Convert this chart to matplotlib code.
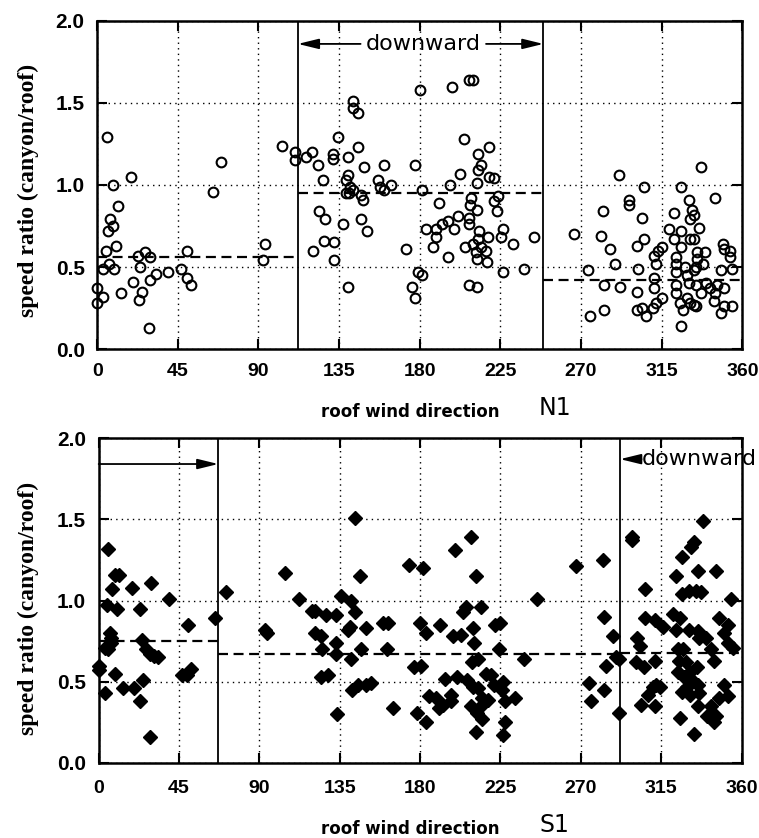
import matplotlib
matplotlib.use("Agg")
import matplotlib.pyplot as plt

plt.rcParams['font.family'] = ['Liberation Sans', 'DejaVu Sans']

# N1 : roof wind direction (deg) vs speed ratio, open circles
n1_dir = [5.6, 18.9, 8.7, 11.5, 7.4, 8.7, 5.9, 10.7, 5.2, 6.8, 3.1, 9.3, 0, 3.1, 0, 13.5,
          20, 22.6, 24, 26.5, 29.6, 24.8, 23.1, 29.3, 33, 39.8, 46.9, 50, 50, 52.2, 28.7,
          64.8, 68.9, 93.5, 92.6, 103.3, 110.4, 110.4,
          116.7, 120, 123, 126, 124, 127.4, 120.4, 126.5, 132, 132, 137, 131.5, 131.5, 134.6,
          140, 145.7, 142.6, 143, 145.7, 149, 139.8, 139, 141.3, 140.7, 139, 142.6, 147.4,
          148.5, 147.4, 150.5, 140, 156.5, 160, 158, 163.7, 160,
          177.4, 180, 198, 207.3, 210, 204.9, 212.7, 218.9, 214.2, 212.7, 202.6, 218.9, 221.3,
          197, 212, 181, 190.8, 208.6, 208.3, 211.8, 223.6, 221.3, 223, 201.5, 207.3, 207.7,
          195.5, 192.7, 199.2, 183.7, 189.3, 189, 187.5, 213.3, 218.3, 212.7, 209.5, 214.2,
          205.4, 211.4, 217, 212, 217.8, 226.4, 225.4, 232, 244, 195.9, 172.1, 179.3, 181.5,
          175.5, 177.2, 207.7, 211.8, 226.7, 238,
          266, 274, 275, 282, 281, 286, 289, 283, 283, 291, 292, 297, 297, 301, 304, 306, 301,
          302, 301, 305, 304, 305, 310, 311, 311, 312, 312, 311, 313, 315, 315, 319, 322, 322,
          323, 323, 323, 323, 323, 326, 326, 326, 326, 325, 327, 328, 329, 330, 331, 331, 330,
          329, 331, 333, 332, 333, 333, 333, 334, 334, 335, 335, 334, 336, 337, 338, 339, 340,
          342, 337, 344, 345, 345, 346, 348, 348, 349, 350, 350, 350, 353, 353, 354, 354]
n1_ratio = [1.29, 1.05, 1.00, 0.87, 0.79, 0.75, 0.72, 0.63, 0.60, 0.52, 0.49, 0.49, 0.37, 0.32,
            0.28, 0.34, 0.41, 0.57, 0.50, 0.59, 0.56, 0.35, 0.30, 0.42, 0.46, 0.47, 0.49, 0.60,
            0.43, 0.39, 0.13, 0.96, 1.14, 0.64, 0.54, 1.24, 1.20, 1.15,
            1.17, 1.20, 1.12, 1.03, 0.84, 0.79, 0.60, 0.66, 0.65, 0.54, 0.76, 1.19, 1.16, 1.29,
            1.17, 1.23, 1.51, 1.47, 1.44, 1.11, 1.06, 1.03, 0.99, 0.95, 0.95, 0.97, 0.94,
            0.91, 0.79, 0.72, 0.38, 1.03, 1.12, 0.99, 1.00, 0.97,
            1.12, 1.58, 1.60, 1.64, 1.64, 1.28, 1.19, 1.23, 1.12, 1.09, 1.07, 1.05, 1.04,
            1.00, 1.01, 0.97, 0.89, 0.92, 0.88, 0.85, 0.93, 0.90, 0.84, 0.81, 0.80, 0.76,
            0.78, 0.76, 0.73, 0.73, 0.73, 0.68, 0.62, 0.72, 0.68, 0.67, 0.64, 0.62,
            0.62, 0.59, 0.60, 0.55, 0.53, 0.73, 0.68, 0.64, 0.68, 0.56, 0.61, 0.47, 0.45,
            0.38, 0.31, 0.39, 0.38, 0.47, 0.49,
            0.70, 0.48, 0.20, 0.84, 0.69, 0.61, 0.52, 0.39, 0.24, 1.06, 0.38, 0.91, 0.88, 0.24,
            0.25, 0.20, 0.35, 0.49, 0.63, 0.67, 0.80, 0.99, 0.25, 0.43, 0.37, 0.28, 0.52, 0.57,
            0.60, 0.62, 0.31, 0.73, 0.83, 0.67, 0.56, 0.52, 0.47, 0.39, 0.34, 0.99, 0.72, 0.62,
            0.14, 0.28, 0.24, 0.50, 0.45, 0.91, 0.79, 0.67, 0.40, 0.31, 0.28, 0.27, 0.85, 0.82,
            0.67, 0.48, 0.39, 0.50, 0.59, 0.55, 0.26, 0.74, 0.34, 0.52, 0.59, 0.40, 0.37, 1.11,
            0.29, 0.92, 0.34, 0.39, 0.48, 0.22, 0.64, 0.61, 0.37, 0.26, 0.60, 0.56, 0.49, 0.26]

# S1 : filled diamonds
s1_dir = [5.2, 9.0, 11.2, 7.6, 18.8, 29.5, 4.7, 10.5, 23, 39.4, 65.3, 50, 6.5, 6.8, 7.1, 3.4,
          5.2, 24.3, 26.7, 28.5, 31, 33.2, 0, 0.3, 9.3, 46.7, 49.6, 51.9, 24.8, 3.7, 13.6,
          19.8, 23.3, 28.5,
          71.5, 104.1, 94.0, 93, 112.2, 119.4, 121, 127.5, 133.1, 121, 124.7, 125, 133.1, 133.1,
          135.9, 141.5, 143.7, 143.3, 146.5, 139.6, 141, 149.8, 147, 141.5, 159.2, 162, 161.5,
          124.7, 128.4, 141.8, 145.2, 149.8, 152.3, 164.8, 133.5,
          173.6, 181.6, 199.3, 208.3, 211.4, 245.4, 205.9, 204, 213.9, 180.1, 183.1, 191, 198.4,
          202.7, 209.6, 210.2, 221.7, 225, 223.9, 212.4, 209, 238, 176.5, 180.7, 193.7, 200.8,
          206.4, 209.6, 212.4, 217, 219.9, 221.3, 226.3, 225.8, 214.6, 218, 213.9, 212, 214.6,
          227.3, 233.3, 184.8, 189.1, 190.6, 192.8, 197.1, 197.5, 178.5, 183.1, 208.3, 211.4,
          227.3, 226.3,
          267.4, 282.4, 283, 288, 289.9, 284.2, 274.4, 275.6, 283, 291.5, 291.5,
          298.7, 298.7, 306.2, 301.6, 302.9, 301, 305.3, 305.7, 311.3, 315.9, 311.7, 312.2,
          310.4, 307.6, 303.9, 311.3, 314.1, 338.3, 333.6, 331.5, 326.6, 323.4, 335.5, 345.9,
          326.9, 330.6, 334.4, 337.2, 353.9, 321.6, 325.4, 323.1, 330.6, 335.5, 336.4, 340.1,
          347.6, 352.3, 350, 352.3, 355.1, 324.3, 327, 342.9, 344.8, 325.2, 328.9, 324.3, 331,
          334.8, 327.6, 332.3, 329.5, 335.5, 326.7, 331.4, 336, 350, 352.3, 347.6, 335.5, 343,
          340.8, 345.9, 344.8, 325.8, 333.6]
s1_ratio = [1.32, 1.16, 1.16, 1.07, 1.08, 1.11, 0.97, 0.95, 0.95, 1.01, 0.89, 0.85, 0.80, 0.77,
            0.74, 0.71, 0.70, 0.76, 0.70, 0.67, 0.66, 0.65, 0.60, 0.57, 0.55, 0.54, 0.54, 0.58,
            0.51, 0.43, 0.46, 0.46, 0.38, 0.16,
            1.05, 1.17, 0.80, 0.82, 1.01, 0.935, 0.935, 0.91, 0.91, 0.80, 0.78, 0.70, 0.74, 0.67,
            1.03, 1.00, 0.93, 1.51, 1.15, 0.82, 0.84, 0.83, 0.70, 0.64, 0.86, 0.86, 0.70,
            0.53, 0.54, 0.45, 0.48, 0.48, 0.49, 0.34, 0.30,
            1.22, 1.20, 1.31, 1.39, 1.15, 1.01, 0.96, 0.93, 0.96, 0.86, 0.80, 0.85, 0.78,
            0.79, 0.83, 0.74, 0.85, 0.86, 0.70, 0.64, 0.62, 0.64, 0.59, 0.60, 0.52, 0.53,
            0.51, 0.47, 0.46, 0.55, 0.54, 0.48, 0.50, 0.45, 0.40, 0.39, 0.35, 0.31, 0.27,
            0.38, 0.40, 0.41, 0.40, 0.34, 0.36, 0.42, 0.38, 0.31, 0.25, 0.35, 0.19,
            0.25, 0.17,
            1.21, 1.25, 0.90, 0.78, 0.65, 0.60, 0.49, 0.38, 0.45, 0.31, 0.64,
            1.37, 1.39, 1.07, 0.77, 0.72, 0.62, 0.59, 0.89, 0.88, 0.84, 0.63, 0.48,
            0.47, 0.42, 0.36, 0.35, 0.47, 1.49, 1.36, 1.33, 1.27, 1.15, 1.18, 1.18,
            1.04, 1.06, 1.06, 1.05, 1.01, 0.92, 0.89, 0.82, 0.82, 0.81, 0.77, 0.77,
            0.89, 0.85, 0.80, 0.74, 0.71, 0.70, 0.70, 0.70, 0.63, 0.63, 0.62, 0.56, 0.56,
            0.59, 0.53, 0.51, 0.47, 0.48, 0.44, 0.42, 0.43, 0.48, 0.41, 0.40, 0.35, 0.35,
            0.29, 0.29, 0.25, 0.28, 0.18]

# sector boundaries (solid lines) and sector mean ratios (dashed)
n1_bounds = [0, 112, 249, 360]
n1_means = [0.56, 0.95, 0.42]
s1_bounds = [0, 67, 292, 360]
s1_means = [0.75, 0.67, 0.68]

xticks = [0, 45, 90, 135, 180, 225, 270, 315, 360]
yticks = [0.0, 0.5, 1.0, 1.5, 2.0]

fig = plt.figure(figsize=(7.59, 8.38), dpi=100)
ax1 = fig.add_axes([0.128, 0.5835, 0.850, 0.3915])
ax2 = fig.add_axes([0.130, 0.0895, 0.847, 0.3878])


def style(ax, xpad):
    ax.set_xlim(0, 360)
    ax.set_ylim(0, 2.0)
    ax.set_xticks(xticks)
    ax.set_yticks(yticks)
    ax.set_yticklabels(['%.1f' % v for v in yticks])
    ax.tick_params(direction='in', length=7, width=1.5, top=True, right=True)
    ax.tick_params(axis='x', labelsize=14, pad=xpad)
    ax.tick_params(axis='y', labelsize=15, pad=9)
    for lab in ax.get_xticklabels() + ax.get_yticklabels():
        lab.set_fontweight('bold')
    for sp in ax.spines.values():
        sp.set_linewidth(1.8)
    ax.grid(True, color='black', linestyle=(0, (1, 3)), linewidth=1.0)


def sectors(ax, bounds, means):
    for b in bounds[1:-1]:
        ax.axvline(b, color='black', lw=1.3, zorder=3)
    for i, m in enumerate(means):
        ax.plot([bounds[i], bounds[i + 1]], [m, m], color='black', lw=1.6,
                linestyle=(0, (4.5, 2.5)), zorder=3)


arrow = dict(arrowstyle='-|>,head_length=0.9,head_width=0.22', color='black',
             lw=1.3, shrinkA=0, shrinkB=0, mutation_scale=14)

# top panel : N1
style(ax1, 10)
sectors(ax1, n1_bounds, n1_means)
ax1.plot(n1_dir, n1_ratio, 'o', mfc='none', mec='black', ms=7, mew=1.5,
         ls='none', clip_on=False, zorder=4)
ax1.annotate('', xy=(112, 1.86), xytext=(147, 1.86), arrowprops=arrow)
ax1.annotate('', xy=(249, 1.86), xytext=(217, 1.86), arrowprops=arrow)
ax1.text(182, 1.86, 'downward', ha='center', va='center', fontsize=16,
         family='DejaVu Sans')

# bottom panel : S1
style(ax2, 12)
sectors(ax2, s1_bounds, s1_means)
ax2.plot(s1_dir, s1_ratio, 'D', color='black', ms=6.8, ls='none', clip_on=False, zorder=4)
ax2.annotate('', xy=(67, 1.84), xytext=(0, 1.84), arrowprops=arrow)
ax2.annotate('', xy=(292, 1.87), xytext=(304, 1.87), arrowprops=arrow)
ax2.text(304, 1.87, 'downward', ha='left', va='center', fontsize=16,
         family='DejaVu Sans', clip_on=False)

# axis labels
for yc in [0.773, 0.274]:
    fig.text(0.037, yc, 'speed ratio (canyon/roof)', rotation=90, ha='center', va='center',
             fontsize=17, fontweight='bold', family='Liberation Serif')
fig.text(0.540, 0.502, 'roof wind direction', ha='center', va='baseline', fontsize=12,
         fontweight='bold', family='DejaVu Sans')
fig.text(0.731, 0.505, 'N1', ha='center', va='baseline', fontsize=17, family='DejaVu Sans')
fig.text(0.540, 0.005, 'roof wind direction', ha='center', va='baseline', fontsize=12,
         fontweight='bold', family='DejaVu Sans')
fig.text(0.731, 0.007, 'S1', ha='center', va='baseline', fontsize=17, family='DejaVu Sans')

fig.savefig('out.png', dpi=100)
